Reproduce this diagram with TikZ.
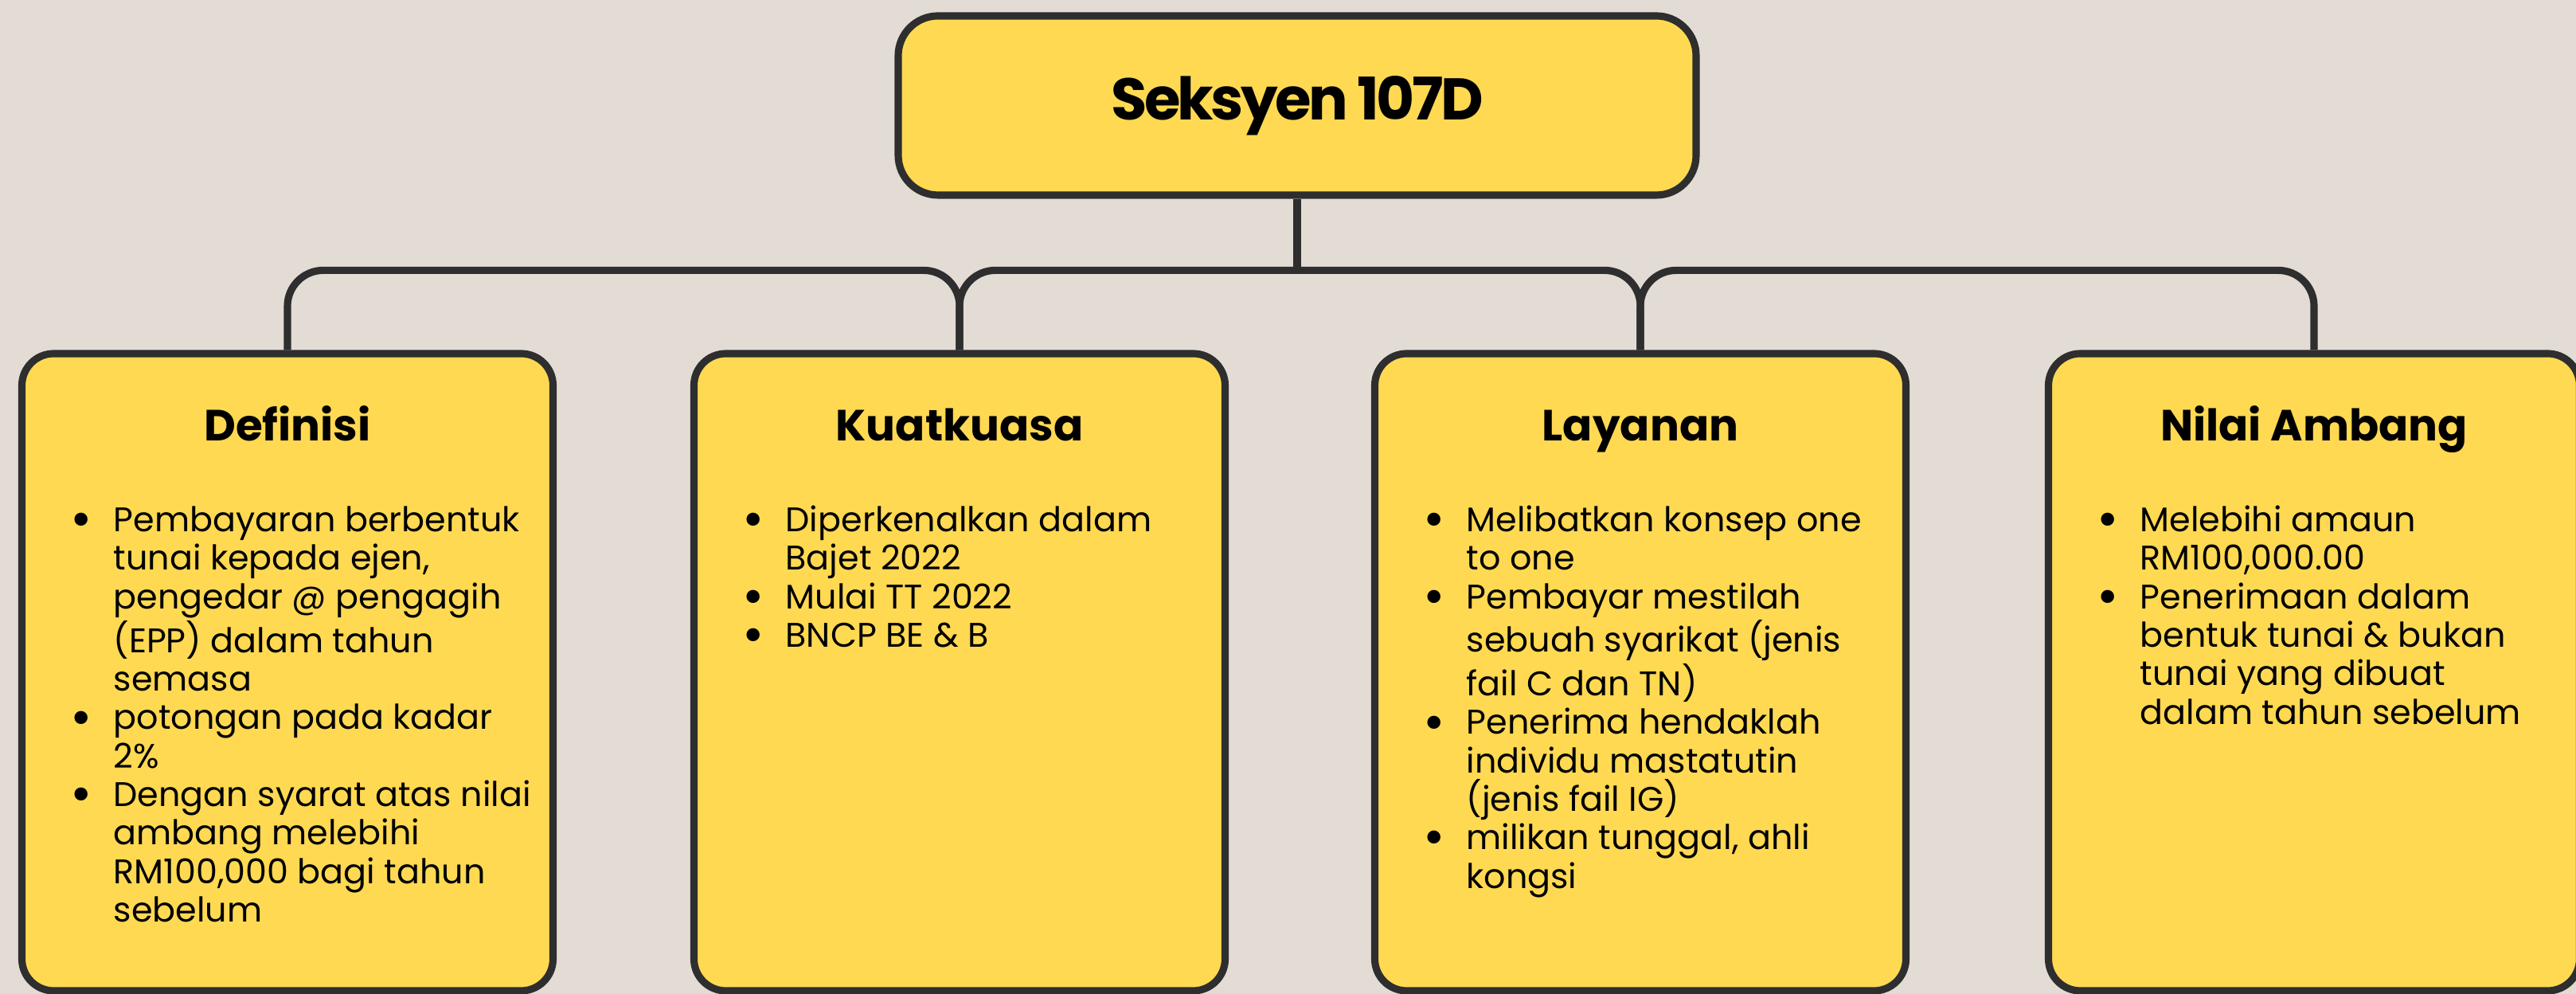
\documentclass[tikz,border=0pt]{standalone}
\usepackage{fontspec}
\setmainfont{Poppins}
\usetikzlibrary{calc}
\definecolor{bgcol}{HTML}{E2DCD5}
\definecolor{boxcol}{HTML}{FFD952}
\definecolor{linecol}{HTML}{2E2E2E}
\newcommand{\bul}{\makebox[0.8cm]{\raisebox{-0.17em}{\scalebox{1.55}{\textbullet}}}}
\newcommand{\cnt}{\hspace*{0.8cm}}
\newcommand{\itemrows}[1]{\vtop{\let\\\cr\halign{##\hfil\cr#1\crcr}}}
\tikzset{
	box/.style={draw=linecol, fill=boxcol, line width=2.6pt, rounded corners=0.4cm, minimum width=6.67cm, minimum height=8cm},
	link/.style={draw=linecol, line width=2.6pt, rounded corners=0.45cm},
	head/.style={font=\fontsize{15.6}{18}\selectfont\bfseries, anchor=base, inner sep=0pt},
	items/.style={font=\fontsize{12.2}{13.75}\selectfont, anchor=base west, inner sep=0pt},
}

\begin{document}
\begin{tikzpicture}
	\fill[bgcol] (0,0) rectangle (32.35,12.48);
	\useasboundingbox (0,0) rectangle (32.35,12.48);
	\node[box, minimum width=10.02cm, minimum height=2.25cm, rounded corners=0.5cm, font=\fontsize{21}{24}\selectfont\bfseries\addfontfeatures{LetterSpace=-5}] (seksyen) at (16.29,11.155) {Seksyen 107D};
	\node[box] (definisi) at (3.61,4.04) {};
	\node[box] (kuatkuasa) at (12.05,4.04) {};
	\node[box] (layanan) at (20.60,4.04) {};
	\node[box] (ambang) at (29.06,4.04) {};
	\coordinate (bus) at (16.29,9.04);
	\draw[link] (seksyen.south) -- (bus);
	\draw[link] (definisi.north) -- ++(0,1.0) -| (kuatkuasa.north);
	\draw[link] (kuatkuasa.north) -- ++(0,1.0) -| (layanan.north);
	\draw[link] (layanan.north) -- ++(0,1.0) -| (ambang.north);
	\node[head] (definisi-h) at ($(definisi.north)+(0,-1.14)$) {Definisi};
	\node[head] (kuatkuasa-h) at ($(kuatkuasa.north)+(0,-1.14)$) {Kuatkuasa};
	\node[head] (layanan-h) at ($(layanan.north)+(0,-1.14)$) {Layanan};
	\node[head] (ambang-h) at ($(ambang.north)+(0,-1.14)$) {Nilai Ambang};
	\node[items] (definisi-t) at ($(definisi.north west)+(0.39,-2.28)$) {\itemrows{\bul Pembayaran berbentuk\\ \cnt tunai kepada ejen,\\ \cnt pengedar @ pengagih\\ \cnt (EPP) dalam tahun\\ \cnt semasa\\ \bul potongan pada kadar\\ \cnt 2\%\\ \bul Dengan syarat atas nilai\\ \cnt ambang melebihi\\ \cnt RM100,000 bagi tahun\\ \cnt sebelum}};
	\node[items] (kuatkuasa-t) at ($(kuatkuasa.north west)+(0.39,-2.28)$) {\itemrows{\bul Diperkenalkan dalam\\ \cnt Bajet 2022\\ \bul Mulai TT 2022\\ \bul BNCP BE \& B}};
	\node[items] (layanan-t) at ($(layanan.north west)+(0.39,-2.28)$) {\itemrows{\bul Melibatkan konsep one\\ \cnt to one\\ \bul Pembayar mestilah\\ \cnt sebuah syarikat (jenis\\ \cnt fail C dan TN)\\ \bul Penerima hendaklah\\ \cnt individu mastatutin\\ \cnt (jenis fail IG)\\ \bul milikan tunggal, ahli\\ \cnt kongsi}};
	\node[items] (ambang-t) at ($(ambang.north west)+(0.39,-2.28)$) {\itemrows{\bul Melebihi amaun\\ \cnt RM100,000.00\\ \bul Penerimaan dalam\\ \cnt bentuk tunai \& bukan\\ \cnt tunai yang dibuat\\ \cnt dalam tahun sebelum}};
\end{tikzpicture}
\end{document}
